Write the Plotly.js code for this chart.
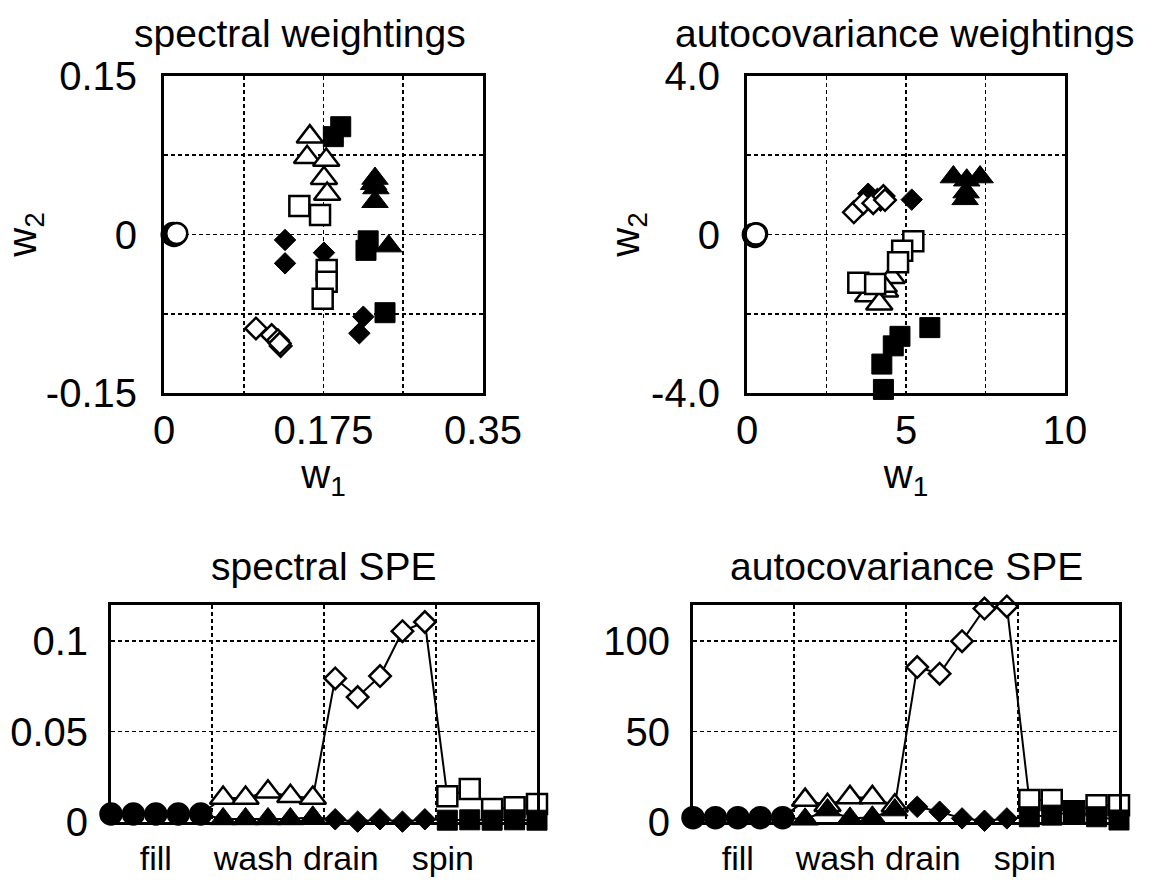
<!DOCTYPE html>
<html><head><meta charset="utf-8">
<script src="https://cdn.plot.ly/plotly-3.0.1.min.js"></script>
<style>html,body{margin:0;padding:0;background:#fff}#chart{width:1158px;height:886px}</style>
</head><body><div id="chart"></div>
<script>
// ---------------- data ----------------
const phaseLabels = ['fill', 'wash', 'drain', 'spin'];
const phaseLabelPos = [3, 7.35, 11.25, 15.8];
const phaseBoundaries = [5.5, 10.5, 15.5];
const samplePhase = ['fill','fill','fill','fill','fill','wash','wash','wash','wash','wash',
                     'drain','drain','drain','drain','drain','spin','spin','spin','spin','spin'];
const sampleIndex = [1,2,3,4,5,6,7,8,9,10,11,12,13,14,15,16,17,18,19,20];

// spectral weightings
const specOpenW1   = [0.009,0.010,0.011,0.013,0.014, 0.160,0.157,0.178,0.1755,0.179, 0.1009,0.1181,0.128,0.125,0.127, 0.1485,0.1712,0.1785,0.1785,0.1741];
const specOpenW2   = [0.000,0.001,-0.001,0.000,0.001, 0.0926,0.073,0.0705,0.0532,0.0383, -0.0889,-0.0951,-0.1055,-0.100,-0.103, 0.027,0.0185,-0.0336,-0.0447,-0.0608];
const specFilledW1 = [0.009,0.010,0.011,0.013,0.014, 0.2315,0.2325,0.2315,0.230,0.2465, 0.1328,0.1328,0.1755,0.2187,0.2143, 0.1939,0.1858,0.224,0.2216,0.2425];
const specFilledW2 = [0.000,0.001,-0.001,0.000,0.001, 0.053,0.044,0.031,0.048,-0.011, -0.0052,-0.0273,-0.0172,-0.0778,-0.0935, 0.102,0.0926,-0.006,-0.015,-0.074];

// autocovariance weightings
const acovOpenW1   = [0.20,0.25,0.30,0.22,0.28, 4.55,4.34,3.81,4.16,4.30, 3.36,3.66,3.97,4.29,4.34, 5.23,4.88,4.75,3.50,4.03];
const acovOpenW2   = [0.00,-0.05,0.02,-0.03,0.01, -1.08,-1.42,-1.54,-1.75,-1.30, 0.56,0.79,0.79,0.97,0.87, -0.17,-0.41,-0.70,-1.22,-1.25];
const acovFilledW1 = [0.20,0.25,0.30,0.22,0.28, 6.49,6.91,7.33,6.89,6.86, 3.81,5.18,3.90,4.10,4.20, 5.75,4.81,4.60,4.24,4.29];
const acovFilledW2 = [0.00,-0.05,0.02,-0.03,0.01, 1.45,1.37,1.45,1.07,0.90, 1.03,0.88,0.95,0.90,0.85, -2.35,-2.57,-2.81,-3.27,-3.91];

// SPE
const specSpeOpen   = [0.0044,0.0044,0.0044,0.0044,0.0044, 0.0133,0.0133,0.0167,0.0142,0.0133, 0.0794,0.0691,0.0807,0.1055,0.1106, 0.0142,0.0182,0.0072,0.0081,0.0100];
const specSpeFilled = [0.0044,0.0044,0.0044,0.0044,0.0044, 0.0017,0.0017,0.0017,0.0017,0.0026, 0.0015,0.0002,0.0015,0.0002,0.0015, 0.0010,0.0012,0.0010,0.0012,0.0010];
const acovSpeOpen   = [2.4,2.4,2.4,2.4,2.4, 12.1,9.3,13.6,13.6,9.0, 85.7,82.0,100.0,118.0,119.2, 12.1,12.1,6.0,9.3,9.3];
const acovSpeFilled = [2.4,2.4,2.4,2.4,2.4, 1.5,6.6,2.0,2.6,6.6, 8.4,5.7,2.0,0.7,2.0, 2.9,3.8,5.7,2.9,1.1];

// tick labels
const specW1Ticks = [0, 0.0875, 0.175, 0.2625, 0.35];
const specW1Text  = ['0', '', '0.175', '', '0.35'];
const specW2Ticks = [-0.15, -0.075, 0, 0.075, 0.15];
const specW2Text  = ['-0.15', '', '0', '', '0.15'];
const acovW1Ticks = [0, 2.5, 5, 7.5, 10];
const acovW1Text  = ['0', '', '5', '', '10'];
const acovW2Ticks = [-4, -2, 0, 2, 4];
const acovW2Text  = ['-4.0', '', '0', '', '4.0'];
const specSpeTicks = [0, 0.05, 0.1];
const specSpeText  = ['0', '0.05', '0.1'];
const acovSpeTicks = [0, 50, 100];
const acovSpeText  = ['0', '50', '100'];

// ---------------- style ----------------
const FONT = 'Liberation Sans, Arial, Helvetica, sans-serif';
const FS = 40;
const symbolOf = {fill: 'circle', wash: 'triangle-up', drain: 'diamond', spin: 'square'};
const sizeOf = {fill: 21, wash: 23, drain: 16.5, spin: 20};
const symbols = samplePhase.map(p => symbolOf[p]);
const sizes = samplePhase.map(p => sizeOf[p]);

function markerStyle(open) {
  return {
    symbol: symbols, size: sizes, opacity: 1,
    color: open ? 'white' : 'black',
    line: {color: 'black', width: open ? 2.5 : 1}
  };
}
function scatterTrace(x, y, open, xa, ya) {
  return {x, y, xaxis: xa, yaxis: ya, type: 'scatter', mode: 'markers',
          marker: markerStyle(open), cliponaxis: false, showlegend: false, hoverinfo: 'x+y'};
}
function speTrace(y, open, xa, ya) {
  return {x: sampleIndex, y, xaxis: xa, yaxis: ya, type: 'scatter', mode: 'lines+markers',
          line: {color: 'black', width: 2}, marker: markerStyle(open),
          cliponaxis: false, showlegend: false, hoverinfo: 'x+y'};
}

const data = [
  scatterTrace(specFilledW1, specFilledW2, false, 'x', 'y'),
  scatterTrace(specOpenW1, specOpenW2, true, 'x', 'y'),
  scatterTrace(acovFilledW1, acovFilledW2, false, 'x2', 'y2'),
  scatterTrace(acovOpenW1, acovOpenW2, true, 'x2', 'y2'),
  speTrace(specSpeOpen, true, 'x3', 'y3'),
  speTrace(specSpeFilled, false, 'x3', 'y3'),
  speTrace(acovSpeOpen, true, 'x4', 'y4'),
  speTrace(acovSpeFilled, false, 'x4', 'y4')
];

const W = 1158, H = 886;
const px = (a, b) => [a / W, b / W];
const py = (top, bottom) => [1 - bottom / H, 1 - top / H];
const GRID = {gridcolor: 'black', griddash: '4px,3px', gridwidth: 1.8};

function axisBase(extra) {
  return Object.assign({
    showline: true, mirror: true, linecolor: 'black', linewidth: 3,
    showgrid: true, zeroline: false, ticks: '', tickmode: 'array', tickangle: 0,
    tickfont: {family: FONT, size: FS, color: 'black'},
    fixedrange: true
  }, GRID, extra);
}
const titleFont = {family: FONT, size: FS, color: 'black'};
const phaseFont = {family: FONT, size: 34, color: 'black'};

const layout = {
  width: W, height: H,
  margin: {l: 0, r: 0, t: 0, b: 0},
  paper_bgcolor: 'white', plot_bgcolor: 'white',
  font: {family: FONT, size: FS, color: 'black'},
  xaxis: axisBase({domain: px(164, 483), range: [0, 0.35], tickvals: specW1Ticks, ticktext: specW1Text,
    ticklabelstandoff: 0, anchor: 'y',
    title: {text: 'w<sub>1</sub>', font: titleFont, standoff: 6}}),
  yaxis: axisBase({domain: py(76, 393), range: [-0.15, 0.15], tickvals: specW2Ticks, ticktext: specW2Text,
    ticklabelstandoff: 16, anchor: 'x',
    title: {text: 'w<sub>2</sub>', font: titleFont, standoff: 0}}),
  xaxis2: axisBase({domain: px(747, 1065), range: [0, 10], tickvals: acovW1Ticks, ticktext: acovW1Text,
    ticklabelstandoff: 0, anchor: 'y2',
    title: {text: 'w<sub>1</sub>', font: titleFont, standoff: 6}}),
  yaxis2: axisBase({domain: py(76, 393), range: [-4, 4], tickvals: acovW2Ticks, ticktext: acovW2Text,
    ticklabelstandoff: 16, anchor: 'x2',
    title: {text: 'w<sub>2</sub>', font: titleFont, standoff: 0}}),
  xaxis3: axisBase({domain: px(111, 537), range: [1, 20], tickvals: phaseLabelPos, ticktext: phaseLabels,
    tickfont: phaseFont, showgrid: false, ticklabelstandoff: 4, anchor: 'y3',
    minor: Object.assign({tickvals: phaseBoundaries, showgrid: true, ticks: ''}, GRID)}),
  yaxis3: axisBase({domain: py(605, 822), range: [0, 0.12], tickvals: specSpeTicks, ticktext: specSpeText,
    ticklabelstandoff: 12, anchor: 'x3'}),
  xaxis4: axisBase({domain: px(693, 1119), range: [1, 20], tickvals: phaseLabelPos, ticktext: phaseLabels,
    tickfont: phaseFont, showgrid: false, ticklabelstandoff: 4, anchor: 'y4',
    minor: Object.assign({tickvals: phaseBoundaries, showgrid: true, ticks: ''}, GRID)}),
  yaxis4: axisBase({domain: py(605, 822), range: [0, 120], tickvals: acovSpeTicks, ticktext: acovSpeText,
    ticklabelstandoff: 12, anchor: 'x4'}),
  annotations: [
    {text: 'spectral weightings', x: 300 / W, y: 1 - 33 / H},
    {text: 'autocovariance weightings', x: 905 / W, y: 1 - 33 / H},
    {text: 'spectral SPE', x: 323 / W, y: 1 - 566 / H},
    {text: 'autocovariance SPE', x: 906 / W, y: 1 - 566 / H}
  ].map(a => Object.assign({xref: 'paper', yref: 'paper', xanchor: 'center', yanchor: 'middle',
    showarrow: false, font: {family: FONT, size: 39, color: 'black'}}, a))
};

Plotly.newPlot('chart', data, layout, {displayModeBar: false, staticPlot: true});
</script>
</body></html>
